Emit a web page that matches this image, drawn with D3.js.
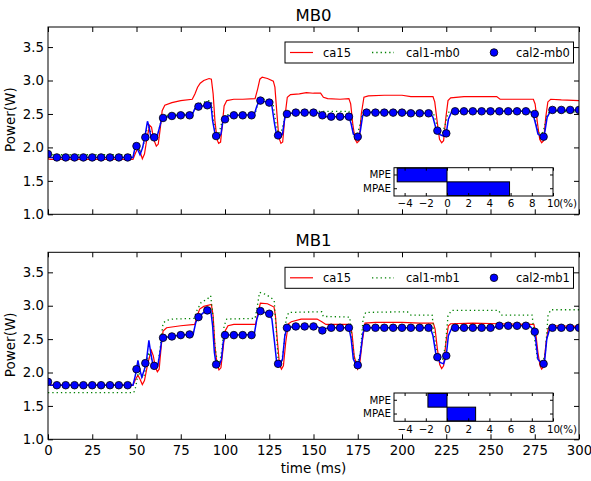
<!DOCTYPE html>
<html>
<head>
<meta charset="utf-8">
<script src="https://cdn.jsdelivr.net/npm/d3@7"></script>
<style>
  html, body { margin: 0; padding: 0; background: #fff; }
  svg { display: block; font-family: "DejaVu Sans", sans-serif; }
</style>
</head>
<body>
<svg id="chart" width="591" height="481"></svg>
<script>
// ---------------- DATA ----------------
const panelTitles = ["MB0", "MB1"];
const legendLabels0 = ["ca15", "cal1-mb0", "cal2-mb0"];
const legendLabels1 = ["ca15", "cal1-mb1", "cal2-mb1"];
const xTicks = [0, 25, 50, 75, 100, 125, 150, 175, 200, 225, 250, 275, 300];
const yTicks = [1.0, 1.5, 2.0, 2.5, 3.0, 3.5];
const insetCats = ["MPE", "MPAE"];
const insetTicks = [-4, -2, 0, 2, 4, 6, 8, 10];
const errMB0 = [-4.7, 5.9];
const errMB1 = [-1.8, 2.7];

// MB0 panel: ca15 (red)
const ca15_mb0 = [[0,1.83],[1.5,1.82],[48,1.82],[49.5,1.92],[50.8,1.985],[52,1.94],[53.3,1.83],[54.5,1.9],[56,2.15],[57.4,2.33],[58.5,2.3],[59.7,2.12],[61.2,2.02],[62.3,2.05],[63.5,2.3],[64.5,2.55],[66,2.63],[70,2.67],[75,2.70],[81.5,2.72],[83,2.8],[84.5,2.9],[86,2.96],[88,3.0],[91,3.03],[92.3,3.02],[93.3,2.8],[94.3,2.4],[95.5,2.12],[96.4,2.06],[97.5,2.08],[98.5,2.35],[99.5,2.62],[101,2.70],[105,2.72],[110,2.72],[117,2.73],[118.5,2.88],[119.7,3.02],[121,3.05],[124,3.03],[127.3,2.99],[128.2,2.9],[129.2,2.55],[130.4,2.15],[131.6,2.06],[132.6,2.08],[133.8,2.45],[135.2,2.75],[137,2.79],[142,2.80],[146,2.82],[150,2.81],[154,2.81],[155.6,2.75],[158,2.73],[165,2.72],[170,2.73],[171,2.65],[172.2,2.35],[173.5,2.12],[174.6,2.07],[175.8,2.1],[177,2.5],[178.5,2.75],[181,2.77],[190,2.78],[200,2.78],[205,2.76],[217.5,2.76],[218.5,2.68],[219.8,2.4],[221.2,2.12],[222.4,2.07],[223.5,2.1],[224.8,2.45],[226,2.70],[227.5,2.74],[235,2.76],[245,2.76],[253.5,2.76],[255.4,2.72],[265,2.72],[274.2,2.72],[275.2,2.65],[276.6,2.35],[277.8,2.12],[278.9,2.07],[280,2.1],[281.2,2.45],[282.4,2.68],[284,2.72],[290,2.71],[300,2.70]];
// MB0 panel: cal1-mb0 (green dotted)
const cal1_mb0 = [[0,1.89],[48,1.89],[49.5,1.97],[51,2.02],[52.3,1.92],[54,2.05],[56,2.28],[57,2.3],[58.5,2.2],[60,2.18],[62,2.18],[63.5,2.35],[64.5,2.47],[70,2.49],[80,2.50],[82,2.52],[83.5,2.62],[86,2.66],[91,2.70],[92.3,2.68],[93.5,2.4],[94.8,2.22],[96.5,2.2],[98,2.35],[99.2,2.45],[101,2.49],[117,2.50],[118.5,2.65],[120,2.73],[124,2.71],[127,2.68],[128.5,2.4],[130,2.22],[131.5,2.2],[133,2.35],[134.5,2.52],[137,2.54],[170,2.54],[171.3,2.4],[172.5,2.22],[174.5,2.2],[176,2.3],[177.5,2.5],[179,2.53],[200,2.53],[217.5,2.53],[219,2.4],[220.5,2.25],[223,2.22],[224.5,2.35],[226,2.52],[228,2.55],[274,2.54],[275.5,2.4],[277,2.22],[279,2.2],[280.5,2.3],[282,2.5],[284,2.54],[300,2.53]];
// MB0 panel: cal2-mb0 (blue line)
const cal2_mb0 = [[0,1.9],[1.5,1.85],[48,1.85],[49.2,2.0],[50,2.02],[51,1.95],[52,1.89],[53.5,2.0],[55,2.2],[56.2,2.39],[57.2,2.3],[58.1,2.15],[61.5,2.15],[63,2.3],[64.4,2.44],[70,2.47],[75,2.48],[81.5,2.49],[83,2.58],[85,2.61],[90,2.63],[92,2.66],[93,2.4],[94.5,2.18],[96.5,2.15],[97.7,2.2],[98.8,2.38],[100,2.42],[101.5,2.47],[105,2.48],[116.5,2.49],[118,2.62],[119.5,2.70],[125,2.67],[126.5,2.62],[128,2.35],[129.2,2.18],[131,2.15],[132.5,2.2],[133.8,2.45],[135,2.50],[140,2.52],[152,2.52],[155,2.48],[157,2.46],[170,2.46],[171.3,2.35],[172.5,2.2],[174,2.17],[175.5,2.15],[176.5,2.25],[177.8,2.48],[179.5,2.52],[200,2.52],[203,2.51],[216,2.51],[217.5,2.45],[219,2.3],[220,2.25],[221.5,2.19],[223.5,2.17],[225,2.21],[226.2,2.42],[228,2.53],[230,2.54],[272,2.54],[274,2.50],[275.5,2.35],[276.8,2.20],[279,2.16],[280.5,2.2],[282,2.45],[284,2.55],[300,2.56]];

// MB1 panel
const ca15_mb1 = [[0,1.83],[1.5,1.81],[48,1.81],[49.5,1.9],[50.8,1.96],[52,1.9],[53.3,1.82],[54.5,1.88],[56.5,2.15],[58.4,2.33],[59.5,2.25],[60.7,2.07],[61.8,2.01],[62.8,2.05],[64,2.4],[65,2.62],[67,2.67],[75,2.70],[82.9,2.72],[84.3,2.85],[85.7,2.95],[88,2.99],[92.3,3.02],[93.3,2.85],[94.3,2.4],[95.5,2.12],[96.6,2.04],[97.7,2.07],[98.9,2.35],[100,2.62],[101.7,2.70],[105,2.72],[117.3,2.72],[118.7,2.9],[120,3.04],[124,3.03],[127.7,2.98],[128.5,2.85],[129.5,2.5],[130.8,2.12],[131.9,2.05],[133,2.1],[134.3,2.45],[135.8,2.73],[137.5,2.76],[143,2.80],[152,2.80],[154.7,2.76],[157,2.72],[170,2.72],[171.7,2.6],[173,2.25],[174.9,2.05],[176,2.1],[177.5,2.45],[179.1,2.74],[185,2.75],[200,2.75],[210,2.74],[217.7,2.74],[218.7,2.65],[220,2.35],[221.3,2.12],[222.4,2.06],[223.5,2.1],[224.8,2.45],[226.2,2.70],[227.5,2.73],[240,2.74],[255,2.73],[270,2.72],[274.5,2.72],[275.5,2.6],[276.8,2.3],[278,2.1],[278.9,2.05],[280,2.09],[281.4,2.45],[282.6,2.66],[284,2.70],[300,2.69]];
const cal1_mb1 = [[0,1.70],[48.5,1.70],[49.5,1.78],[51,2.0],[52.5,1.95],[54,1.92],[55.5,2.1],[57,2.3],[58.5,2.2],[60,2.1],[62,2.1],[63.5,2.4],[65,2.74],[67,2.78],[70,2.80],[82.5,2.81],[84,2.92],[86.5,3.05],[90,3.1],[91.9,3.15],[93,2.9],[94.3,2.4],[95.5,2.18],[97,2.15],[98.3,2.35],[99.5,2.7],[101,2.80],[117,2.81],[118.3,3.0],[119.5,3.20],[123,3.17],[126,3.12],[127.8,3.08],[128.8,2.7],[130,2.2],[132,2.15],[133.3,2.4],[134.5,2.80],[136,2.90],[154.6,2.91],[155.5,2.84],[170.5,2.83],[171.7,2.5],[173,2.2],[175,2.15],[176.5,2.3],[178,2.80],[179.5,2.90],[203,2.91],[205,2.86],[217,2.86],[218.5,2.5],[220,2.25],[223,2.2],[224.5,2.4],[226,2.85],[228,2.93],[254.6,2.93],[256,2.86],[273.5,2.86],[275,2.5],[276.5,2.2],[279.5,2.14],[281,2.3],[282.5,2.85],[284,2.94],[300,2.94]];
const cal2_mb1 = [[0,1.86],[1.5,1.81],[48,1.81],[49.3,1.95],[50,2.05],[50.8,2.18],[51.8,2.05],[53,1.93],[54.5,2.05],[55.5,2.15],[57,2.48],[58,2.3],[59.3,2.11],[62,2.10],[63.3,2.3],[64.4,2.52],[70,2.54],[75,2.56],[82,2.57],[83.5,2.75],[85,2.83],[88,2.9],[90,2.93],[92,2.92],[93,2.7],[94,2.3],[95,2.12],[96.8,2.11],[98,2.2],[99,2.45],[100,2.56],[116.5,2.57],[118,2.8],[119.5,2.92],[125,2.88],[126.5,2.8],[128,2.45],[129.2,2.15],[131,2.12],[132.5,2.2],[133.8,2.55],[135,2.67],[140,2.69],[152,2.69],[155,2.63],[157,2.66],[160,2.67],[170,2.67],[171.3,2.5],[172.5,2.2],[174,2.12],[175.5,2.11],[176.6,2.3],[178,2.6],[179.5,2.67],[216,2.67],[217.5,2.55],[219,2.3],[220,2.23],[221.5,2.15],[223.5,2.13],[225,2.25],[226.2,2.55],[228,2.66],[230,2.67],[252,2.67],[254,2.70],[272,2.70],[274.5,2.63],[275.5,2.5],[276.8,2.2],[279,2.13],[280.5,2.15],[281.8,2.5],[283.5,2.66],[285,2.67],[300,2.67]];

// markers (every 5 ms)
const dotTimes = [0,5,10,15,20,25,30,35,40,45,50,55,60,65,70,75,80,85,90,95,100,105,110,115,120,125,130,135,140,145,150,155,160,165,170,175,180,185,190,195,200,205,210,215,220,225,230,235,240,245,250,255,260,265,270,275,280,285,290,295,300];
const dots_mb0 = [1.90,1.85,1.85,1.85,1.85,1.85,1.85,1.85,1.85,1.85,2.02,2.15,2.15,2.44,2.47,2.48,2.48,2.61,2.63,2.17,2.42,2.48,2.48,2.48,2.70,2.67,2.18,2.50,2.52,2.52,2.52,2.48,2.46,2.46,2.46,2.16,2.52,2.52,2.52,2.52,2.52,2.51,2.51,2.51,2.25,2.21,2.54,2.54,2.54,2.54,2.54,2.54,2.54,2.54,2.54,2.50,2.16,2.56,2.56,2.56,2.56];
const dots_mb1 = [1.86,1.81,1.81,1.81,1.81,1.81,1.81,1.81,1.81,1.81,2.05,2.14,2.10,2.52,2.54,2.56,2.57,2.83,2.93,2.12,2.56,2.56,2.56,2.56,2.92,2.88,2.13,2.67,2.69,2.69,2.69,2.63,2.67,2.67,2.67,2.11,2.67,2.67,2.67,2.67,2.67,2.67,2.67,2.67,2.23,2.25,2.67,2.67,2.67,2.67,2.67,2.70,2.70,2.70,2.70,2.61,2.13,2.67,2.67,2.67,2.67];

// ---------------- DRAW ----------------
const svg = d3.select("#chart");
const W = 591, H = 481;
svg.append("rect").attr("width", W).attr("height", H).attr("fill", "#fff");

const left = 48, right = 579;
const panels = [
  { top: 27, bottom: 214.3, title: panelTitles[0], red: ca15_mb0, green: cal1_mb0, blue: cal2_mb0, dots: dots_mb0, legend: legendLabels0, err: errMB0, xLabels: false },
  { top: 252.3, bottom: 439.3, title: panelTitles[1], red: ca15_mb1, green: cal1_mb1, blue: cal2_mb1, dots: dots_mb1, legend: legendLabels1, err: errMB1, xLabels: true }
];

const x = d3.scaleLinear().domain([0, 300]).range([left, right]);

panels.forEach(p => {
  const y = d3.scaleLinear().domain([1, 3.8]).range([p.bottom, p.top]);
  const g = svg.append("g");

  const clipId = "clip" + Math.round(p.top);
  svg.append("clipPath").attr("id", clipId).append("rect")
    .attr("x", left).attr("y", p.top).attr("width", right - left).attr("height", p.bottom - p.top);

  const line = d3.line().x(d => x(d[0])).y(d => y(d[1]));
  const plot = g.append("g").attr("clip-path", `url(#${clipId})`);

  plot.append("path").datum(p.red).attr("d", line)
    .attr("fill", "none").attr("stroke", "#ff0000").attr("stroke-width", 1.2);
  plot.append("path").datum(p.green).attr("d", line)
    .attr("fill", "none").attr("stroke", "#008000").attr("stroke-width", 1.3)
    .attr("stroke-dasharray", "1.3,3");
  plot.append("path").datum(p.blue).attr("d", line)
    .attr("fill", "none").attr("stroke", "#0000ff").attr("stroke-width", 1.5);
  plot.selectAll("circle.dot").data(dotTimes).join("circle")
    .attr("class", "dot")
    .attr("cx", d => x(d)).attr("cy", (d, i) => y(p.dots[i]))
    .attr("r", 3.8).attr("fill", "#0000ff").attr("stroke", "#000").attr("stroke-width", 0.8);

  // axes
  const fmtY = d3.format(".1f");
  const axL = g.append("g").attr("transform", `translate(${left},0)`)
    .call(d3.axisLeft(y).tickValues(yTicks).tickFormat(fmtY).tickSize(-5).tickPadding(4));
  const axR = g.append("g").attr("transform", `translate(${right},0)`)
    .call(d3.axisRight(y).tickValues(yTicks).tickFormat("").tickSize(-5));
  const axT = g.append("g").attr("transform", `translate(0,${p.top})`)
    .call(d3.axisTop(x).tickValues(xTicks).tickFormat("").tickSize(-5));
  const axB = g.append("g").attr("transform", `translate(0,${p.bottom})`)
    .call(d3.axisBottom(x).tickValues(xTicks).tickFormat(p.xLabels ? d3.format("d") : "").tickSize(-5).tickPadding(6));
  [axL, axR, axT, axB].forEach(a => {
    a.select(".domain").remove();
    a.selectAll(".tick line").attr("stroke", "#000").attr("stroke-width", 1);
    a.selectAll("text").attr("font-size", 13.3).attr("fill", "#000").attr("font-family", "DejaVu Sans");
  });

  g.append("rect").attr("x", left).attr("y", p.top).attr("width", right - left).attr("height", p.bottom - p.top)
    .attr("fill", "none").attr("stroke", "#000").attr("stroke-width", 1);

  // title
  g.append("text").attr("x", (left + right) / 2).attr("y", p.top - 6.5)
    .attr("text-anchor", "middle").attr("font-size", 16.5).text(p.title);

  // y label
  g.append("text").attr("transform", `translate(15,${(p.top + p.bottom) / 2 - 1}) rotate(-90)`)
    .attr("text-anchor", "middle").attr("font-size", 13.5).text("Power(W)");

  // legend
  const ly = p.top + 15;
  const lg = g.append("g");
  lg.append("rect").attr("x", 285).attr("y", ly).attr("width", 288.5).attr("height", 21)
    .attr("fill", "#fff").attr("stroke", "#000").attr("stroke-width", 1);
  const lcy = ly + 10.5;
  lg.append("line").attr("x1", 290).attr("x2", 313).attr("y1", lcy).attr("y2", lcy)
    .attr("stroke", "#ff0000").attr("stroke-width", 1.2);
  lg.append("line").attr("x1", 372).attr("x2", 394).attr("y1", lcy).attr("y2", lcy)
    .attr("stroke", "#008000").attr("stroke-width", 1.3).attr("stroke-dasharray", "1.3,3");
  lg.append("circle").attr("cx", 494).attr("cy", lcy).attr("r", 3.8)
    .attr("fill", "#0000ff").attr("stroke", "#000").attr("stroke-width", 0.8);
  const lxs = [323, 406, 516];
  p.legend.forEach((t, i) => {
    lg.append("text").attr("x", lxs[i]).attr("y", lcy + 4.2).attr("font-size", 11.5).text(t);
  });

  // inset bar chart
  const iTop = p.top + 140.7, iBot = p.top + 169;
  const xi = d3.scaleLinear().domain([-5, 10]).range([394, 553]);
  const yi = d3.scaleBand().domain(insetCats).range([iTop, iBot]).paddingInner(0.0).paddingOuter(0.03);
  const ig = g.append("g");
  ig.append("rect").attr("x", 394).attr("y", iTop).attr("width", 159).attr("height", iBot - iTop)
    .attr("fill", "#fff");
  ig.selectAll("rect.bar").data(insetCats).join("rect").attr("class", "bar")
    .attr("x", (d, i) => xi(Math.min(0, p.err[i])))
    .attr("width", (d, i) => Math.abs(xi(p.err[i]) - xi(0)))
    .attr("y", d => yi(d)).attr("height", yi.bandwidth())
    .attr("fill", "#0000ff").attr("stroke", "#000").attr("stroke-width", 1);
  const ib = ig.append("g").attr("transform", `translate(0,${iBot})`)
    .call(d3.axisBottom(xi).tickValues(insetTicks).tickSize(-3).tickPadding(4));
  const it = ig.append("g").attr("transform", `translate(0,${iTop})`)
    .call(d3.axisTop(xi).tickValues(insetTicks).tickFormat("").tickSize(-3));
  const il = ig.append("g").attr("transform", `translate(394,0)`)
    .call(d3.axisLeft(yi).tickSize(-3).tickPadding(3));
  const ir = ig.append("g").attr("transform", `translate(553,0)`)
    .call(d3.axisRight(yi).tickFormat("").tickSize(-3));
  [ib, it, il, ir].forEach(a => {
    a.select(".domain").remove();
    a.selectAll(".tick line").attr("stroke", "#000");
    a.selectAll("text").attr("font-size", 10.3).attr("fill", "#000").attr("font-family", "DejaVu Sans");
  });
  ig.append("text").attr("x", xi(10) + 6.3).attr("y", iBot + 4 + 10.3 * 0.71)
    .attr("font-size", 10.3).text("(%)");
  ig.append("rect").attr("x", 394).attr("y", iTop).attr("width", 159).attr("height", iBot - iTop)
    .attr("fill", "none").attr("stroke", "#000").attr("stroke-width", 1);
});

// x label
svg.append("text").attr("x", (left + right) / 2).attr("y", 473)
  .attr("text-anchor", "middle").attr("font-size", 13.5).text("time (ms)");
</script>
</body>
</html>
